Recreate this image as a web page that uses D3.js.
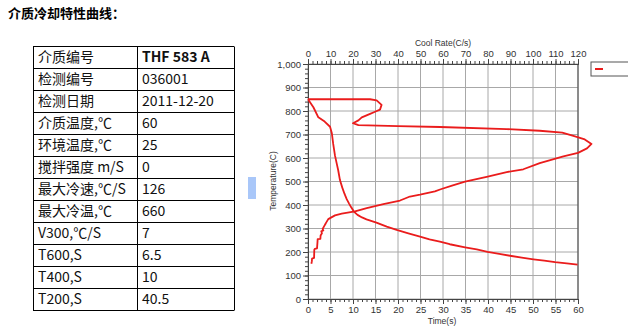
<!DOCTYPE html>
<html>
<head>
<meta charset="utf-8">
<script src="https://cdn.jsdelivr.net/npm/d3@7"></script>
<style>
  html, body { margin: 0; padding: 0; background: #fff; }
  svg { display: block; }
</style>
</head>
<body>
<svg id="page" width="628" height="329"></svg>
<script>
// Medium test record
const fieldNames = ["介质编号", "检测编号", "检测日期", "介质温度,℃", "环境温度,℃", "搅拌强度 m/S",
  "最大冷速,℃/S", "最大冷温,℃", "V300,℃/S", "T600,S", "T400,S", "T200,S"];
const fieldValues = ["THF 583 A", "036001", "2011-12-20", "60", "25", "0",
  "126", "660", "7", "6.5", "10", "40.5"];

// Cooling curve: time (s) vs temperature (°C)
const coolTime = [0, 1.2, 2.3, 3.7, 4.9, 5.3, 5.6, 6.0, 6.4, 6.7, 7.1, 7.6, 8.1, 8.6, 9.1, 9.6, 10.2, 11.0, 12.0, 13.0, 15.2,
  17.5, 19.7, 22.3, 24.9, 27.0, 29.3, 31.5, 34.9, 37.5, 39.9, 42.5, 44.9, 47.5, 50.1, 52.5, 54.9, 57.5, 59.9];
const coolTemp = [850, 816, 773, 755, 733, 705, 660, 610, 575, 549, 506, 475, 448, 425, 407, 390, 372, 358, 347, 339, 325,
  308, 294, 279, 265, 254, 244, 233, 220, 211, 201, 192, 184, 176, 169, 163, 157, 152, 146];

// Cooling-rate curve: rate (°C/s) vs temperature (°C)
const rateValue = [0, 27.6, 30.5, 32.7, 32.0, 29.8, 27.6, 23.9, 22.4, 20.0, 22.4, 40.0, 58.7, 88.3, 103.0, 113.0, 118.7,
  123.0, 126.0, 124.0, 120.0, 113.5, 103.0, 95.7, 88.3, 79.4, 69.8, 64.0, 59.0, 56.4, 49.8, 45.3, 40.9, 33.5, 26.1,
  20.9, 15.0, 12.0, 9.0, 8.0, 7.8, 7.2, 6.5, 6.8, 5.9, 6.2, 5.6, 5.5, 4.3, 4.2, 4.0, 3.0, 2.8, 2.7, 1.8, 1.7, 1.5];
const rateTemp = [850, 850, 845, 826, 806, 797, 788, 773, 760, 748, 740, 736, 732, 723, 716, 708, 692,
  679, 660, 641, 622, 607, 578, 552, 540, 520, 499, 482, 467, 458, 444, 436, 419, 404, 387,
  373, 363, 356, 340, 324, 320, 310, 298, 292, 288, 280, 270, 256, 255, 240, 215, 213, 210, 175, 172, 160, 150];

const timeTicks = [0, 5, 10, 15, 20, 25, 30, 35, 40, 45, 50, 55, 60];
const rateTicks = [0, 10, 20, 30, 40, 50, 60, 70, 80, 90, 100, 110, 120];
const tempTicks = [0, 100, 200, 300, 400, 500, 600, 700, 800, 900, 1000];

const svg = d3.select("#page");

// Heading
svg.append("text")
  .attr("x", 8).attr("y", 18)
  .attr("font-family", "'Noto Sans CJK SC', sans-serif")
  .attr("font-size", 13).attr("font-weight", "bold").attr("fill", "#000")
  .text("介质冷却特性曲线：");

// Parameter table
const tbl = { x0: 33, x1: 137, x2: 234, y0: 45.5, rowH: 22 };
const tableG = svg.append("g");
const rowY = d3.scaleBand().domain(d3.range(fieldNames.length))
  .range([tbl.y0, tbl.y0 + tbl.rowH * fieldNames.length]);
const rows = tableG.selectAll("g.row").data(fieldNames).join("g").attr("class", "row");
rows.append("text")
  .attr("x", tbl.x0 + 5).attr("y", (d, i) => rowY(i) + rowY.bandwidth() / 2 + 5)
  .attr("font-family", "'Noto Sans CJK SC', sans-serif").attr("font-size", 14).attr("fill", "#111")
  .text(d => d);
rows.append("text")
  .attr("x", tbl.x1 + 5).attr("y", (d, i) => rowY(i) + rowY.bandwidth() / 2 + 5)
  .attr("font-family", "'Noto Sans CJK SC', sans-serif").attr("font-size", 14).attr("fill", "#111")
  .attr("font-weight", (d, i) => i === 0 ? "bold" : "normal")
  .text((d, i) => fieldValues[i]);
tableG.selectAll("line.h").data(d3.range(fieldNames.length + 1)).join("line")
  .attr("x1", tbl.x0).attr("x2", tbl.x2)
  .attr("y1", i => Math.round(tbl.y0 + i * tbl.rowH) + 0.5)
  .attr("y2", i => Math.round(tbl.y0 + i * tbl.rowH) + 0.5)
  .attr("stroke", "#000");
tableG.selectAll("line.v").data([tbl.x0, tbl.x1, tbl.x2]).join("line")
  .attr("x1", d => d + 0.5).attr("x2", d => d + 0.5)
  .attr("y1", Math.round(tbl.y0) + 0.5).attr("y2", Math.round(tbl.y0 + tbl.rowH * fieldNames.length) + 0.5)
  .attr("stroke", "#000");

// Small marker block between table and chart
svg.append("rect").attr("x", 248).attr("y", 177).attr("width", 8).attr("height", 22).attr("fill", "#a9c7f9");

// Chart scales
const plot = { left: 308, right: 578, top: 64, bottom: 299 };
const xTime = d3.scaleLinear().domain([0, 60]).range([plot.left, plot.right]);
const xRate = d3.scaleLinear().domain([0, 120]).range([plot.left, plot.right]);
const yTemp = d3.scaleLinear().domain([0, 1000]).range([plot.bottom, plot.top]);

const chart = svg.append("g").attr("font-family", "Arial, 'Liberation Sans', sans-serif");

// Grid
chart.append("g").selectAll("line").data(rateTicks).join("line")
  .attr("x1", d => xRate(d)).attr("x2", d => xRate(d))
  .attr("y1", plot.top).attr("y2", plot.bottom)
  .attr("stroke", "#a8a8a8").attr("stroke-width", 1);
chart.append("g").selectAll("line").data(tempTicks).join("line")
  .attr("x1", plot.left).attr("x2", plot.right)
  .attr("y1", d => yTemp(d)).attr("y2", d => yTemp(d))
  .attr("stroke", "#a8a8a8").attr("stroke-width", 1);

function styleAxis(g) {
  g.select(".domain").attr("stroke", "#444");
  g.selectAll(".tick line").attr("stroke", "#444");
  g.selectAll(".tick text").attr("fill", "#333").attr("font-size", 9.5);
}

// Minor ticks
chart.append("g").attr("transform", `translate(0,${plot.top})`)
  .call(d3.axisTop(xRate).tickValues(d3.range(0, 121, 2)).tickSize(3).tickFormat(""))
  .call(styleAxis);
chart.append("g").attr("transform", `translate(0,${plot.bottom})`)
  .call(d3.axisBottom(xTime).tickValues(d3.range(0, 61, 1)).tickSize(3).tickFormat(""))
  .call(styleAxis);
chart.append("g").attr("transform", `translate(${plot.left},0)`)
  .call(d3.axisLeft(yTemp).tickValues(d3.range(0, 1001, 20)).tickSize(3).tickFormat(""))
  .call(styleAxis);

// Major axes
chart.append("g").attr("transform", `translate(0,${plot.top})`)
  .call(d3.axisTop(xRate).tickValues(rateTicks).tickSize(5).tickPadding(2))
  .call(styleAxis);
chart.append("g").attr("transform", `translate(0,${plot.bottom})`)
  .call(d3.axisBottom(xTime).tickValues(timeTicks).tickSize(5).tickPadding(2))
  .call(styleAxis);
chart.append("g").attr("transform", `translate(${plot.left},0)`)
  .call(d3.axisLeft(yTemp).tickValues(tempTicks).tickSize(5).tickPadding(2).tickFormat(d3.format(",")))
  .call(styleAxis);
chart.append("line")
  .attr("x1", plot.right).attr("x2", plot.right).attr("y1", plot.top).attr("y2", plot.bottom)
  .attr("stroke", "#444");

// Axis titles
chart.append("text").attr("x", 443).attr("y", 46).attr("text-anchor", "middle")
  .attr("font-size", 8.5).attr("fill", "#333").text("Cool Rate(C/s)");
chart.append("text").attr("x", 442).attr("y", 324).attr("text-anchor", "middle")
  .attr("font-size", 8.5).attr("fill", "#333").text("Time(s)");
chart.append("text").attr("transform", "translate(276,181) rotate(-90)").attr("text-anchor", "middle")
  .attr("font-size", 8.5).attr("fill", "#333").text("Temperature(C)");

// Curves
const red = "#ea1c1c";
const coolLine = d3.line().x(d => xTime(d[0])).y(d => yTemp(d[1]));
const rateLine = d3.line().x(d => xRate(d[0])).y(d => yTemp(d[1]));
chart.append("path").datum(d3.zip(coolTime, coolTemp))
  .attr("d", coolLine).attr("fill", "none").attr("stroke", red).attr("stroke-width", 1.8)
  .attr("stroke-linejoin", "round");
chart.append("path").datum(d3.zip(rateValue, rateTemp))
  .attr("d", rateLine).attr("fill", "none").attr("stroke", red).attr("stroke-width", 1.8)
  .attr("stroke-linejoin", "round");

// Legend (clipped at the page edge)
chart.append("rect").attr("x", 591).attr("y", 62).attr("width", 60).attr("height", 14)
  .attr("fill", "#fff").attr("stroke", "#555");
chart.append("line").attr("x1", 595).attr("x2", 603).attr("y1", 69).attr("y2", 69)
  .attr("stroke", red).attr("stroke-width", 2);
</script>
</body>
</html>
